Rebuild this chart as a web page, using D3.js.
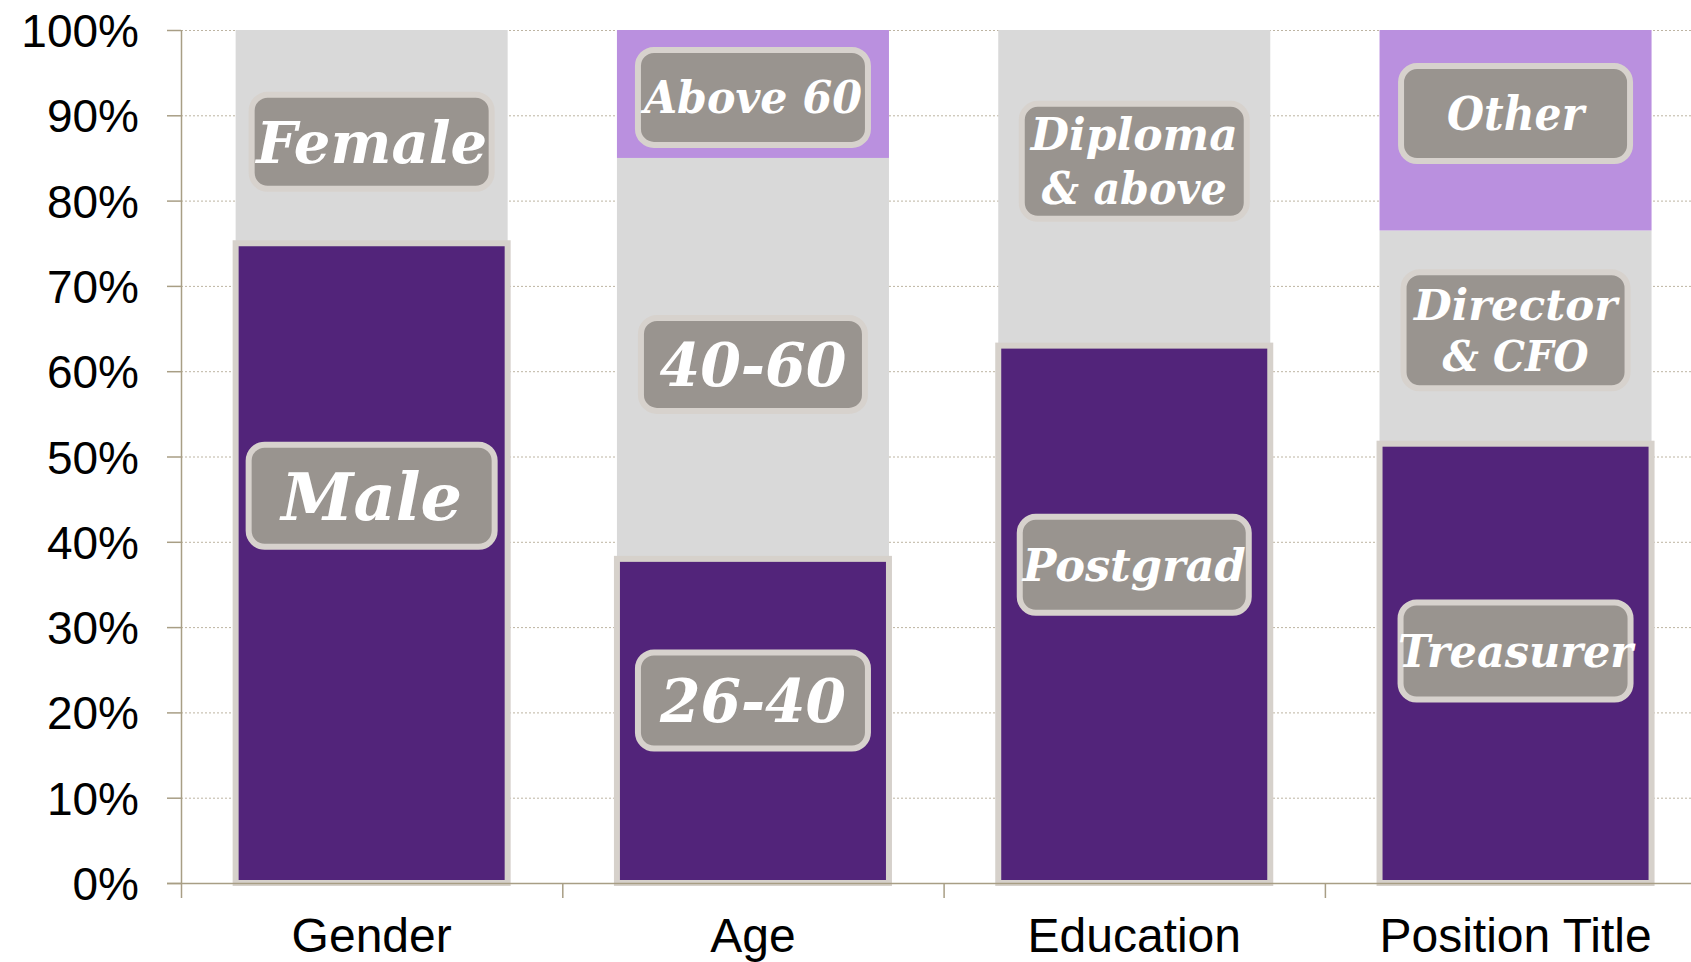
<!DOCTYPE html>
<html>
<head>
<meta charset="utf-8">
<script src="https://cdn.jsdelivr.net/npm/d3@7/dist/d3.min.js"></script>
<style>
  body { margin: 0; background: #fff; overflow: hidden; }
</style>
</head>
<body>
<svg id="chart" width="1691" height="962"></svg>
<script>
// data
var categories = ['Gender', 'Age', 'Education', 'Position Title'];
var segmentNames = [
  ['Male', 'Female'],
  ['26-40', '40-60', 'Above 60'],
  ['Postgrad', 'Diploma & above'],
  ['Treasurer', 'Director & CFO', 'Other']
];
var segmentValues = [
  [75, 25],
  [38, 47, 15],
  [63, 37],
  [51.5, 25, 23.5]
];
var yTicks = [0, 10, 20, 30, 40, 50, 60, 70, 80, 90, 100];

// label boxes sit where the original slide put them (mid is in % units)
var labelBoxes = [
  [{ mid: 45.4, w: 246, h: 102, size: 66, fit: [181] },
   { mid: 86.9, w: 240, h: 94, size: 58, fit: [231] }],
  [{ mid: 21.4, w: 230, h: 96, size: 60, fit: [186] },
   { mid: 60.8, w: 224, h: 93, size: 60, fit: [187] },
   { mid: 92.1, w: 230, h: 95, size: 44, fit: [218] }],
  [{ mid: 37.3, w: 229, h: 96, size: 44, fit: [223] },
   { mid: 84.6, w: 225, h: 115, size: 44, fit: [207, 185] }],
  [{ mid: 27.2, w: 230, h: 97, size: 44, fit: [235] },
   { mid: 64.8, w: 224, h: 116, size: 42, fit: [203, 146] },
   { mid: 90.2, w: 229, h: 95, size: 46, fit: [137] }]
];

var colors = ['#52247a', '#d9d9d9', '#ba90df'];

var svg = d3.select('#chart'),
  width = +svg.attr('width'),
  height = +svg.attr('height');

var x = d3.scaleBand()
  .domain(categories)
  .range([181, 181 + 4 * 381.3])
  .paddingInner(0.2866)
  .paddingOuter(0.1433);

var y = d3.scaleLinear()
  .domain([0, 100])
  .range([883, 30]);

// dotted gridlines
svg.append('g')
  .selectAll('line')
  .data(yTicks.filter(function(d) { return d > 0; }))
  .enter().append('line')
  .attr('x1', 181)
  .attr('x2', width)
  .attr('y1', function(d) { return y(d) + 0.5; })
  .attr('y2', function(d) { return y(d) + 0.5; })
  .attr('stroke', '#bdb4a2')
  .attr('stroke-width', 1)
  .attr('stroke-dasharray', '2,2');

// stacked segments
var segs = [];
categories.forEach(function(c, i) {
  var acc = 0;
  segmentValues[i].forEach(function(v, j) {
    segs.push({ cat: c, ci: i, si: j, name: segmentNames[i][j], y0: acc, y1: acc + v });
    acc += v;
  });
});
// first segment drawn last so its border sits on top
segs.sort(function(a, b) { return (a.si === 0) - (b.si === 0); });

svg.append('g')
  .selectAll('rect')
  .data(segs)
  .enter().append('rect')
  .attr('x', function(d) { return x(d.cat); })
  .attr('width', x.bandwidth())
  .attr('y', function(d) { return y(d.y1); })
  .attr('height', function(d) { return y(d.y0) - y(d.y1); })
  .attr('fill', function(d) { return colors[d.si]; })
  .attr('stroke', function(d) { return d.si === 0 ? '#d6d1cb' : 'none'; })
  .attr('stroke-width', 6);

// y axis
var yAxis = svg.append('g')
  .attr('transform', 'translate(181,0)')
  .call(d3.axisLeft(y).tickValues(yTicks).tickFormat(function(d) { return d + '%'; })
    .tickSize(14).tickPadding(28));
yAxis.selectAll('line, path').attr('stroke', '#a89e85').attr('stroke-width', 1.5);
yAxis.select('.domain').attr('d', 'M0.5,' + y(100) + 'V' + y(0));
yAxis.selectAll('text')
  .attr('fill', '#000')
  .style('font-family', '"Liberation Sans", Arial, sans-serif')
  .style('font-size', '46px')
  .attr('dy', '0.36em');

// x axis: labels under bars, ticks between categories
var xAxis = svg.append('g')
  .attr('transform', 'translate(0,' + y(0) + ')')
  .call(d3.axisBottom(x).tickSize(0).tickPadding(35));
xAxis.select('.domain').attr('d', 'M167,0.5H' + width).attr('stroke', '#a89e85').attr('stroke-width', 1.5);
xAxis.selectAll('text')
  .attr('fill', '#000')
  .style('font-family', '"Liberation Sans", Arial, sans-serif')
  .style('font-size', '48px');

var step = x.step();
xAxis.selectAll('line.sep')
  .data(categories)
  .enter().append('line')
  .attr('class', 'sep')
  .attr('x1', function(d) { return x(d) - step * x.paddingOuter() + 0.5; })
  .attr('x2', function(d) { return x(d) - step * x.paddingOuter() + 0.5; })
  .attr('y1', 0)
  .attr('y2', 15)
  .attr('stroke', '#a89e85')
  .attr('stroke-width', 1.5);

// segment label boxes
var labels = [];
segs.forEach(function(d) {
  var b = labelBoxes[d.ci][d.si];
  labels.push({ cat: d.cat, name: d.name, box: b });
});

var lg = svg.append('g')
  .selectAll('g')
  .data(labels)
  .enter().append('g')
  .attr('transform', function(d) {
    return 'translate(' + (x(d.cat) + x.bandwidth() / 2) + ',' + y(d.box.mid) + ')';
  });

lg.append('rect')
  .attr('x', function(d) { return -d.box.w / 2; })
  .attr('y', function(d) { return -d.box.h / 2; })
  .attr('width', function(d) { return d.box.w; })
  .attr('height', function(d) { return d.box.h; })
  .attr('rx', 16)
  .attr('fill', '#99948f')
  .attr('stroke', '#d7d2cd')
  .attr('stroke-width', 6);

lg.each(function(d) {
  var lines = d.name.indexOf(' & ') > 0 ? d.name.split(' & ') : [d.name];
  if (lines.length > 1) lines[1] = '& ' + lines[1];
  var size = d.box.size,
    lh = size * 1.22,
    cap = size * 0.72;
  var g = d3.select(this);
  lines.forEach(function(t, i) {
    g.append('text')
      .attr('text-anchor', 'middle')
      .attr('x', 0)
      .attr('y', -(lines.length - 1) * lh / 2 + i * lh + cap / 2)
      .attr('textLength', d.box.fit[i])
      .attr('lengthAdjust', 'spacingAndGlyphs')
      .attr('fill', '#fff')
      .style('font-family', '"DejaVu Serif", serif')
      .style('font-weight', 'bold')
      .style('font-style', 'italic')
      .style('font-size', size + 'px')
      .text(t);
  });
});
</script>
</body>
</html>
